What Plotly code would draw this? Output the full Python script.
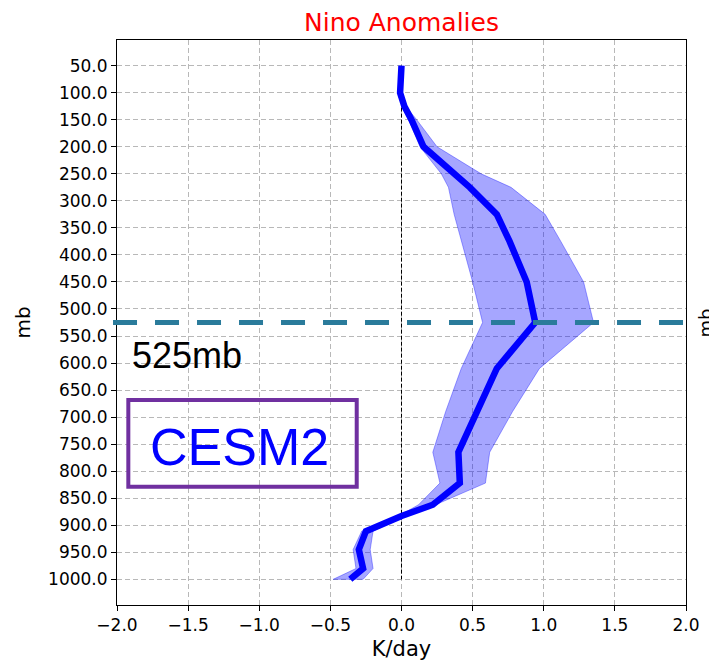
import plotly.graph_objects as go

# ---------------- data ----------------
levels = [50, 100, 125, 150, 200, 250, 275, 325, 375, 450, 525, 610, 690, 765,
          822, 862, 883, 911, 945, 980, 1000]
mean_kday = [0.0, -0.01, 0.02, 0.07, 0.155, 0.37, 0.48, 0.67, 0.76, 0.88, 0.94,
             0.67, 0.53, 0.40, 0.41, 0.22, 0.0, -0.25, -0.30, -0.27, -0.36]
upper_kday = [0.0, -0.005, 0.03, 0.107, 0.25, 0.56, 0.77, 1.01, 1.12, 1.28, 1.35,
              0.97, 0.78, 0.62, 0.59, 0.24, 0.02, -0.20, -0.22, -0.20, -0.27]
lower_kday = [0.0, -0.01, 0.01, 0.047, 0.13, 0.28, 0.33, 0.37, 0.42, 0.50, 0.57,
              0.42, 0.31, 0.22, 0.27, 0.12, -0.02, -0.28, -0.34, -0.32, -0.48]
ref_level = 525
y_ticks = [50, 100, 150, 200, 250, 300, 350, 400, 450, 500, 550, 600, 650, 700,
           750, 800, 850, 900, 950, 1000]
x_ticks = [-2.0, -1.5, -1.0, -0.5, 0.0, 0.5, 1.0, 1.5, 2.0]

title_text = "Nino Anomalies"
model_name = "CESM2"

fig = go.Figure()

# zero reference line
fig.add_trace(go.Scatter(
    x=[0, 0], y=[levels[0], levels[-1]], mode="lines",
    line=dict(color="black", width=1, dash="4px,2px"),
    hoverinfo="skip", showlegend=False))

# spread band
fig.add_trace(go.Scatter(
    x=upper_kday + lower_kday[::-1],
    y=levels + levels[::-1],
    fill="toself", fillcolor="rgba(0,0,255,0.35)",
    mode="lines", line=dict(color="rgba(0,0,255,0.35)", width=1),
    hoverinfo="skip", showlegend=False))

# mean profile
fig.add_trace(go.Scatter(
    x=mean_kday, y=levels, mode="lines",
    line=dict(color="#0000ff", width=6.5),
    showlegend=False))

# horizontal reference level
fig.add_shape(type="line", xref="paper", yref="y",
              x0=-0.007, x1=1.0, y0=ref_level, y1=ref_level,
              line=dict(color="#2a7b9b", width=5, dash="24px,18px"))

# model box
fig.add_shape(type="rect", xref="paper", yref="paper",
              x0=0.0199, x1=0.4213, y0=0.2094, y1=0.3628,
              line=dict(color="#7030a0", width=4), fillcolor="rgba(255,255,255,0)")

fig.add_annotation(xref="paper", yref="paper", x=0.216, y=0.280,
                   text=model_name, showarrow=False,
                   font=dict(family="Liberation Sans, Arial", size=52, color="#0000ff"),
                   xanchor="center", yanchor="middle")

fig.add_annotation(xref="paper", yref="paper", x=0.022, y=0.442,
                   text=f"{ref_level}mb", showarrow=False,
                   font=dict(family="Liberation Sans, Arial", size=36, color="black"),
                   xanchor="left", yanchor="middle")

# right-hand axis label
fig.add_annotation(xref="paper", yref="paper", x=1.035, y=0.5,
                   text="mb", showarrow=False, textangle=-90,
                   font=dict(family="DejaVu Sans", size=18, color="black"),
                   xanchor="center", yanchor="middle")

fig.update_layout(
    width=709, height=653,
    margin=dict(l=109, r=31, t=32, b=56),
    paper_bgcolor="white", plot_bgcolor="white",
    font=dict(family="DejaVu Sans", size=17, color="black"),
    title=dict(text=title_text, xref="paper", x=0.5, xanchor="center",
               y=0.9786, yanchor="middle",
               font=dict(family="DejaVu Sans", size=25, color="red")),
)

fig.update_xaxes(
    range=[-2, 2], tickvals=x_ticks, tickformat=".1f",
    ticks="outside", ticklen=5, tickcolor="black",
    showline=True, linecolor="black", linewidth=1, mirror=True,
    showgrid=True, gridcolor="#b8b8b8", griddash="5px,3px", gridwidth=1,
    zeroline=False, automargin=False,
    title=dict(text="K/day", font=dict(size=21), standoff=6),
)
fig.update_yaxes(
    range=[1047.5, 2.5], tickvals=y_ticks, tickformat=".1f",
    ticks="outside", ticklen=5, tickcolor="black",
    showline=True, linecolor="black", linewidth=1, mirror=True,
    showgrid=True, gridcolor="#b8b8b8", griddash="5px,3px", gridwidth=1,
    zeroline=False, automargin=False,
    title=dict(text="mb", font=dict(size=20), standoff=12),
)

fig.write_html("out.html")
